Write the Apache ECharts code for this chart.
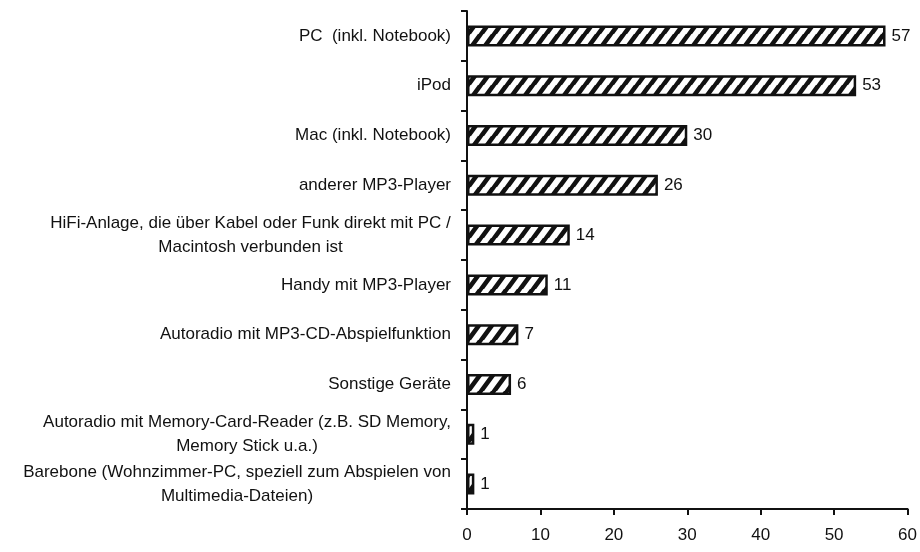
<!DOCTYPE html>
<html><head><meta charset="utf-8">
<script src="https://cdn.jsdelivr.net/npm/echarts@6/dist/echarts.min.js"></script>
<style>html,body{margin:0;padding:0;background:#fff}#c{width:920px;height:552px}</style>
</head><body><div id="c"></div>
<script>
const categories = [
  "PC  (inkl. Notebook)",
  "iPod",
  "Mac (inkl. Notebook)",
  "anderer MP3-Player",
  "HiFi-Anlage, die über Kabel oder Funk direkt mit PC /\nMacintosh verbunden ist",
  "Handy mit MP3-Player",
  "Autoradio mit MP3-CD-Abspielfunktion",
  "Sonstige Geräte",
  "Autoradio mit Memory-Card-Reader (z.B. SD Memory,\nMemory Stick u.a.)",
  "Barebone (Wohnzimmer-PC, speziell zum Abspielen von\nMultimedia-Dateien)"
];
const values = [57, 53, 30, 26, 14, 11, 7, 6, 1, 1];
const xTicks = [0, 10, 20, 30, 40, 50, 60];

const FONT = "'Liberation Sans', Arial, sans-serif";
const FS = 17;

// hatch pattern
const TW = 13, TH = 17;
const pat = document.createElement('canvas');
pat.width = TW; pat.height = TH;
const pc = pat.getContext('2d');
pc.fillStyle = '#fff'; pc.fillRect(0, 0, TW, TH);
pc.strokeStyle = '#111'; pc.lineWidth = 4.5;
pc.beginPath();
for (let k = -1; k <= 1; k++) {
  pc.moveTo(k * TW - 2, TH + 2 * TH / TW * 1.2);
  pc.lineTo(k * TW + TW + 2, -2 * TH / TW * 1.2);
}
pc.stroke();

// measure text for centered multi-line labels
const mc = document.createElement('canvas').getContext('2d');
mc.font = FS + "px " + FONT;
const rich = {};
const labelMap = {};
categories.forEach((c, i) => {
  const lines = c.split('\n');
  if (lines.length > 1) {
    const w = Math.ceil(Math.max(...lines.map(l => mc.measureText(l).width)));
    rich['l' + i] = { width: w, align: 'center', fontSize: FS, fontFamily: FONT, color: '#111', lineHeight: 24 };
    labelMap[c] = lines.map(l => '{l' + i + '|' + l + '}').join('\n');
  } else {
    labelMap[c] = c;
  }
});

const chart = echarts.init(document.getElementById('c'), null, { renderer: 'canvas' });
chart.setOption({
  animation: false,
  backgroundColor: '#fff',
  grid: { left: 467, right: 12, top: 11, bottom: 43, containLabel: false },
  xAxis: {
    type: 'value', min: 0, max: 60, interval: 10,
    axisLine: { show: true, lineStyle: { color: '#111', width: 2 } },
    axisTick: { show: true, length: 6, lineStyle: { color: '#111', width: 2 } },
    splitLine: { show: false },
    axisLabel: { margin: 18, fontSize: FS, fontFamily: FONT, color: '#111',
      formatter: v => xTicks.includes(v) ? String(v) : '' }
  },
  yAxis: {
    type: 'category', data: categories, inverse: true,
    axisLine: { show: true, lineStyle: { color: '#111', width: 2 } },
    axisTick: { show: true, length: 6, lineStyle: { color: '#111', width: 2 } },
    axisLabel: { margin: 16, fontSize: FS, fontFamily: FONT, color: '#111', lineHeight: 24,
      formatter: v => labelMap[v], rich: rich }
  },
  series: [{
    type: 'bar', data: values, barWidth: 21,
    itemStyle: { color: { image: pat, repeat: 'repeat' }, borderColor: '#111', borderWidth: 2.5 },
    label: { show: true, position: 'right', distance: 6, fontSize: FS, fontFamily: FONT, color: '#111' }
  }]
});
</script></body></html>
